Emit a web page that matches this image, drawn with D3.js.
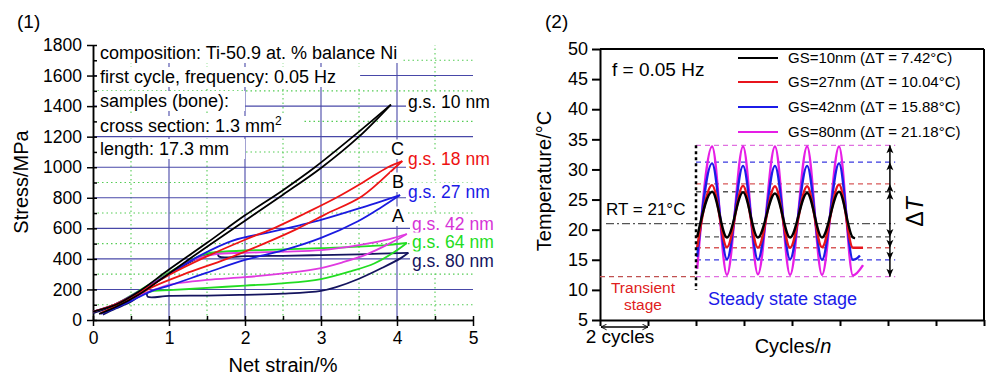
<!DOCTYPE html>
<html><head><meta charset="utf-8">
<script src="https://cdn.jsdelivr.net/npm/d3@7"></script>
<style>body{margin:0;background:#fff} svg{display:block;font-family:"Liberation Sans",Arial,Helvetica,sans-serif}</style>
</head><body><svg id="c" width="986" height="378"></svg>
<script>
// ---------- Panel (1) data ----------
const strainTicks = [0,1,2,3,4,5];
const strainMinor = [0,0.5,1,1.5,2,2.5,3,3.5,4,4.5,5];
const stressTicks = [0,200,400,600,800,1000,1200,1400,1600,1800];
const stressMinor = [100,300,500,700,900,1100,1300,1500,1700];
const gridStrain = [1,2,3,4];
const gridStrainMinor = [0.5,1.5,2.5,3.5,4.5];
const gridStress = [200,400,600,800,1000,1200,1400,1600];

const gs10Load = [[0,55],[0.3,100],[0.6,185],[1,330],[1.5,505],[2,685],[2.5,850],[2.92,1000],[3.42,1200],[3.92,1410]];
const gs10Unload = [[3.92,1410],[3.5,1200],[3,995],[2.5,820],[2,650],[1.5,480],[1,305],[0.6,165],[0.3,85],[0.08,40]];
const gs18Load = [[0,55],[0.3,105],[0.6,180],[1,295],[1.47,410],[2,525],[2.42,610],[2.8,700],[3.2,800],[3.55,900],[3.88,1000],[4.07,1040]];
const gs18Unload = [[4.07,1040],[3.98,1000],[3.54,810],[3.05,690],[2.7,600],[2.25,500],[1.76,400],[1.2,300],[0.8,220],[0.5,140],[0.25,80],[0.1,45]];
const gs27Load = [[0,55],[0.3,105],[0.6,185],[1,300],[1.4,420],[1.84,520],[2.3,572],[2.72,620],[3,655],[3.5,730],[4.04,818]];
const gs27Unload = [[4.04,818],[3.8,740],[3.5,650],[3,537],[2.5,455],[2,393],[1.5,310],[1,225],[0.8,195],[0.5,125],[0.25,70],[0.1,40]];
const gs42Load = [[0,55],[0.3,105],[0.6,185],[1,305],[1.3,390],[1.6,430],[2,440],[2.5,447],[3,457],[3.5,490],[3.9,530],[4.13,563]];
const gs42Unload = [[4.13,563],[3.9,500],[3.6,430],[3.3,380],[3,340],[2.5,305],[2,280],[1.5,262],[1,230],[0.85,205],[0.6,160],[0.3,90],[0.12,45]];
const gs64Load = [[0,55],[0.3,105],[0.6,190],[1,310],[1.3,395],[1.5,435],[1.65,445],[2,455],[2.5,462],[3,470],[3.5,480],[3.9,492],[4.13,504]];
const gs64Unload = [[4.13,504],[3.95,440],[3.7,370],[3.4,320],[3,268],[2.5,240],[2,225],[1.5,210],[1,195],[0.8,190],[0.6,160],[0.3,90],[0.12,45]];
const gs80Load = [[0,45],[0.3,95],[0.6,175],[1,300],[1.3,385],[1.5,430],[1.63,440],[1.66,415],[2,418],[2.5,420],[3,425],[3.5,430],[4.15,440]];
const gs80Unload = [[4.15,440],[4.05,405],[3.8,340],[3.5,270],[3.2,215],[3,190],[2.5,172],[2,165],[1.5,160],[1,158],[0.72,152],[0.7,178],[0.5,120],[0.3,75],[0.13,35]];

const gsLabels = ["g.s. 10 nm","g.s. 18 nm","g.s. 27 nm","g.s. 42 nm","g.s. 64 nm","g.s. 80 nm"];
const noteLines = ["composition: Ti-50.9 at. % balance Ni","first cycle, frequency: 0.05 Hz","samples (bone):","cross section: 1.3 mm","length: 17.3 mm"];

// ---------- Panel (2) data ----------
const cycleTicks = [0,2,4,6,8,10,12,14,16];
const tempTicks = [5,10,15,20,25,30,35,40,45,50];
const legendNames = ["GS=10nm (\u0394T = 7.42\u00B0C)","GS=27nm (\u0394T = 10.04\u00B0C)","GS=42nm (\u0394T = 15.88\u00B0C)","GS=80nm (\u0394T = 21.18\u00B0C)"];
const startCycle = 4.05;
const peakCycles = [4.67,5.96,7.29,8.63,9.96];
const troughCycles = [5.29,6.58,7.92,9.25,10.54];
const tStart = [18.8,17.1,15.5,13.5];
const tPeaks = [[26.3,26.2,26.0,26.1,26.3],[27.4,27.3,27.2,27.2,27.5],[31.0,30.6,30.6,30.6,31.0],[33.8,33.8,33.8,33.8,33.8]];
const tTroughs = [[18.7,18.7,18.7,18.7,18.7],[17.1,17.0,17.0,17.1,17.0],[15.1,15.0,15.1,15.0,15.0],[12.5,12.6,12.5,12.5,12.4]];
const tEnd = [[[10.63,18.6]],[[10.96,17.0]],[[10.7,15.2],[10.83,15.7]],[[10.96,14.1]]];
const dashTop = [26.3,27.6,31.2,34.0];
const dashBottom = [18.8,17.0,15.0,12.2];
const rtLevel = 21;
const transientEnd = 4;
const dashEnd = 12.3;
const arrowCycle = 12.08;

// ---------- drawing ----------
const svg = d3.select("#c");

function bgText(g, x, y, str, size, color, padR) {
  const t = g.append("text").attr("x",x).attr("y",y).attr("font-size",size).attr("fill",color||"#000").text(str);
  const b = t.node().getBBox();
  g.insert("rect", () => t.node()).attr("x",b.x-2).attr("y",b.y+0.5).attr("width",b.width+4+(padR||0)).attr("height",b.height-0.5).attr("fill","#fff");
  return t;
}

// ===== Panel 1 =====
const xS = d3.scaleLinear().domain([0,5]).range([93,473]);
const yS = d3.scaleLinear().domain([0,1800]).range([320,45]);
const L = svg.append("g");

L.selectAll(".gvm").data(gridStrainMinor).join("line")
  .attr("x1",d=>xS(d)).attr("x2",d=>xS(d)).attr("y1",yS(0)).attr("y2",yS(1800))
  .attr("stroke","#55cc55").attr("stroke-width",1.1).attr("stroke-dasharray","1.5,3");
L.selectAll(".ghm").data(stressMinor).join("line")
  .attr("x1",xS(0)).attr("x2",xS(5)).attr("y1",d=>yS(d)).attr("y2",d=>yS(d))
  .attr("stroke","#55cc55").attr("stroke-width",1.1).attr("stroke-dasharray","1.5,3");
L.selectAll(".gv").data(gridStrain).join("line")
  .attr("x1",d=>xS(d)).attr("x2",d=>xS(d)).attr("y1",yS(0)).attr("y2",yS(1800))
  .attr("stroke","#4848a8").attr("stroke-width",1.1);
L.selectAll(".gh").data(gridStress).join("line")
  .attr("x1",xS(0)).attr("x2",xS(5)).attr("y1",d=>yS(d)).attr("y2",d=>yS(d))
  .attr("stroke","#4848a8").attr("stroke-width",1.1);

// note lines with white backgrounds
const noteY = [59,83,107,132,155];
const notePad = [2,22,14,18,14];
noteLines.forEach((s,i)=>{
  const t = L.append("text").attr("x",100).attr("y",noteY[i]).attr("font-size",18).text(s);
  if (i===3) t.append("tspan").attr("dy",-7).attr("font-size",12).text("2");
  const b = t.node().getBBox();
  L.insert("rect", () => t.node()).attr("x",b.x-3).attr("y",noteY[i]-16).attr("width",b.width+5+notePad[i]).attr("height",20).attr("fill","#fff");
});

// axes
const fmtInt = d3.format("d");
const axL = L.append("g").attr("transform",`translate(${xS(0)},0)`)
  .call(d3.axisLeft(yS).tickValues(stressTicks).tickFormat(fmtInt).tickSize(6).tickSizeOuter(0).tickPadding(5));
const axLi = L.append("g").attr("transform",`translate(${xS(0)},0)`)
  .call(d3.axisRight(yS).tickValues(stressTicks.concat(stressMinor)).tickSize(4).tickSizeOuter(0).tickFormat(""));
const axB = L.append("g").attr("transform",`translate(0,${yS(0)})`)
  .call(d3.axisBottom(xS).tickValues(strainTicks).tickFormat(fmtInt).tickSize(6).tickSizeOuter(0).tickPadding(6));
const axBi = L.append("g").attr("transform",`translate(0,${yS(0)})`)
  .call(d3.axisTop(xS).tickValues(strainMinor).tickSize(4).tickSizeOuter(0).tickFormat(""));
[axL,axLi,axB,axBi].forEach(a=>{
  a.attr("font-family",null).attr("font-size",17.5);
  a.selectAll("path,line").attr("stroke","#000").attr("stroke-width",1.5);
  a.selectAll("text").attr("fill","#000");
});

// curves
const lineS = d3.line().x(d=>xS(d[0])).y(d=>yS(d[1])).curve(d3.curveCatmullRom.alpha(0.5));
const curves1 = [
  [gs80Load,"#14145e"],[gs80Unload,"#14145e"],
  [gs64Load,"#22dd22"],[gs64Unload,"#22dd22"],
  [gs42Load,"#e03ae0"],[gs42Unload,"#e03ae0"],
  [gs27Load,"#1a1ae0"],[gs27Unload,"#1a1ae0"],
  [gs18Load,"#ee1515"],[gs18Unload,"#ee1515"],
  [gs10Load,"#000"],[gs10Unload,"#000"]
];
L.selectAll(".crv").data(curves1).join("path")
  .attr("d",d=>lineS(d[0])).attr("fill","none").attr("stroke",d=>d[1]).attr("stroke-width",1.8).attr("stroke-linejoin","round");

// labels
const labX = [408,408,408,412,412,412];
const labY = [108,165,198,229.5,248,267];
const labC = ["#000","#ee1111","#1a1ae6","#d633d6","#22dd22","#141460"];
gsLabels.forEach((s,i)=>bgText(L,labX[i],labY[i],s,17.5,labC[i],0));
bgText(L,391,155,"C",18,"#000");
bgText(L,392,188,"B",18,"#000");
bgText(L,392,222,"A",18,"#000");

L.append("text").attr("x",17).attr("y",28).attr("font-size",19).text("(1)");
L.append("text").attr("transform","translate(28,182) rotate(-90)").attr("text-anchor","middle").attr("font-size",20).text("Stress/MPa");
L.append("text").attr("x",283).attr("y",372).attr("text-anchor","middle").attr("font-size",20).text("Net strain/%");

// ===== Panel 2 =====
const xT = d3.scaleLinear().domain([0,16]).range([600,984]);
const yT = d3.scaleLinear().domain([5,50]).range([320,49]);
const R = svg.append("g");

const defs = svg.append("defs");
defs.append("marker").attr("id","chev").attr("viewBox","0 0 10 10").attr("refX",9).attr("refY",5)
  .attr("markerWidth",7).attr("markerHeight",7).attr("orient","auto-start-reverse").attr("markerUnits","userSpaceOnUse")
  .append("path").attr("d","M1,1 L9,5 L1,9").attr("fill","none").attr("stroke","#000").attr("stroke-width",1.3);

// frame
R.append("line").attr("x1",xT(0)).attr("x2",xT(16)).attr("y1",yT(50)).attr("y2",yT(50)).attr("stroke","#000").attr("stroke-width",2);
R.append("line").attr("x1",xT(16)).attr("x2",xT(16)).attr("y1",yT(50)).attr("y2",yT(5)).attr("stroke","#000").attr("stroke-width",2);
const axTL = R.append("g").attr("transform",`translate(${xT(0)},0)`)
  .call(d3.axisLeft(yT).tickValues(tempTicks).tickFormat(fmtInt).tickSize(8).tickSizeOuter(0).tickPadding(4));
const axTB = R.append("g").attr("transform",`translate(0,${yT(5)})`)
  .call(d3.axisBottom(xT).tickValues(cycleTicks).tickSize(6).tickSizeOuter(0).tickFormat(""));
[axTL,axTB].forEach(a=>{
  a.attr("font-family",null).attr("font-size",18);
  a.selectAll("path,line").attr("stroke","#000").attr("stroke-width",2);
  a.selectAll("text").attr("fill","#000");
});

const tColors = ["#000","#e8141c","#1c1ce8","#e61ee6"];
const dColors = ["#555","#d85a5a","#3a3ae0","#e070e0"];

// transient dashed level
R.append("line").attr("x1",xT(0)).attr("x2",xT(transientEnd)).attr("y1",yT(dashBottom[3])).attr("y2",yT(dashBottom[3]))
  .attr("stroke","#c05050").attr("stroke-width",1.3).attr("stroke-dasharray","5,4");
// RT line
R.append("line").attr("x1",xT(0.25)).attr("x2",xT(dashEnd)).attr("y1",yT(rtLevel)).attr("y2",yT(rtLevel))
  .attr("stroke","#555").attr("stroke-width",1.3).attr("stroke-dasharray","8,3,2,3");
// dashed levels
dashTop.forEach((v,i)=>{
  R.append("line").attr("x1",xT(transientEnd)).attr("x2",xT(dashEnd)).attr("y1",yT(v)).attr("y2",yT(v))
    .attr("stroke",dColors[i]).attr("stroke-width",1.3).attr("stroke-dasharray","5,4");
  R.append("line").attr("x1",xT(transientEnd)).attr("x2",xT(dashEnd)).attr("y1",yT(dashBottom[i])).attr("y2",yT(dashBottom[i]))
    .attr("stroke",dColors[i]).attr("stroke-width",1.3).attr("stroke-dasharray","5,4");
});

// temperature curves
const lineT = d3.line().x(d=>xT(d[0])).y(d=>yT(d[1])).curve(d3.curveMonotoneX);
const tempPts = tPeaks.map((pk,i)=>{
  const pts=[[startCycle,tStart[i]]];
  peakCycles.forEach((c,k)=>{ pts.push([c,pk[k]]); pts.push([troughCycles[k],tTroughs[i][k]]); });
  tEnd[i].forEach(p=>pts.push(p));
  return pts;
});
[3,2,1,0].forEach(i=>{
  R.append("path").attr("d",lineT(tempPts[i])).attr("fill","none").attr("stroke",tColors[i]).attr("stroke-width",2.4);
});

// transient divider
R.append("line").attr("x1",xT(transientEnd)).attr("x2",xT(transientEnd)).attr("y1",yT(34)).attr("y2",yT(10))
  .attr("stroke","#000").attr("stroke-width",2.5).attr("stroke-dasharray","3,3");

// delta T arrows
const ax = xT(arrowCycle);
R.append("line").attr("x1",ax).attr("x2",ax).attr("y1",yT(dashTop[3])).attr("y2",yT(dashBottom[3])).attr("stroke","#000").attr("stroke-width",1.5);
dashTop.forEach(v=>{
  const y=yT(v);
  R.append("path").attr("d",`M${ax},${y} L${ax-3.5},${y+8} L${ax},${y+6} L${ax+3.5},${y+8} Z`).attr("fill","#000");
});
dashBottom.forEach(v=>{
  const y=yT(v);
  R.append("path").attr("d",`M${ax},${y} L${ax-3.5},${y-8} L${ax},${y-6} L${ax+3.5},${y-8} Z`).attr("fill","#000");
});
const dT = R.append("text").attr("transform","translate(923,212) rotate(-90)").attr("text-anchor","middle").attr("font-size",23);
dT.append("tspan").text("\u0394");
dT.append("tspan").attr("font-style","italic").text("T");

// legend
const legY = [58,82,107,132];
legendNames.forEach((s,i)=>{
  R.append("line").attr("x1",738).attr("x2",778).attr("y1",legY[i]).attr("y2",legY[i]).attr("stroke",tColors[i]).attr("stroke-width",2.2);
  R.append("text").attr("x",788).attr("y",legY[i]+5).attr("font-size",15).text(s);
});

// texts
R.append("text").attr("x",545).attr("y",28).attr("font-size",19).text("(2)");
R.append("text").attr("x",612).attr("y",76).attr("font-size",19).text("f = 0.05 Hz");
R.append("text").attr("x",606).attr("y",215).attr("font-size",17).text("RT = 21\u00B0C");
R.append("text").attr("x",643).attr("y",293).attr("text-anchor","middle").attr("font-size",15.5).attr("fill","#e02020").text("Transient");
R.append("text").attr("x",643).attr("y",310).attr("text-anchor","middle").attr("font-size",15.5).attr("fill","#e02020").text("stage");
R.append("text").attr("x",708).attr("y",305).attr("font-size",18).attr("fill","#1a1ae8").text("Steady state stage");
R.append("text").attr("transform","translate(551,181) rotate(-90)").attr("text-anchor","middle").attr("font-size",20).text("Temperature/\u00B0C");
const cyc = R.append("text").attr("x",793).attr("y",353).attr("text-anchor","middle").attr("font-size",20);
cyc.append("tspan").text("Cycles/");
cyc.append("tspan").attr("font-style","italic").text("n");
R.append("line").attr("x1",xT(0)+1).attr("x2",xT(2)).attr("y1",327).attr("y2",327).attr("stroke","#000").attr("stroke-width",1.3)
  .attr("marker-start","url(#chev)").attr("marker-end","url(#chev)");
R.append("text").attr("x",620).attr("y",343).attr("text-anchor","middle").attr("font-size",19).text("2 cycles");
</script></body></html>
